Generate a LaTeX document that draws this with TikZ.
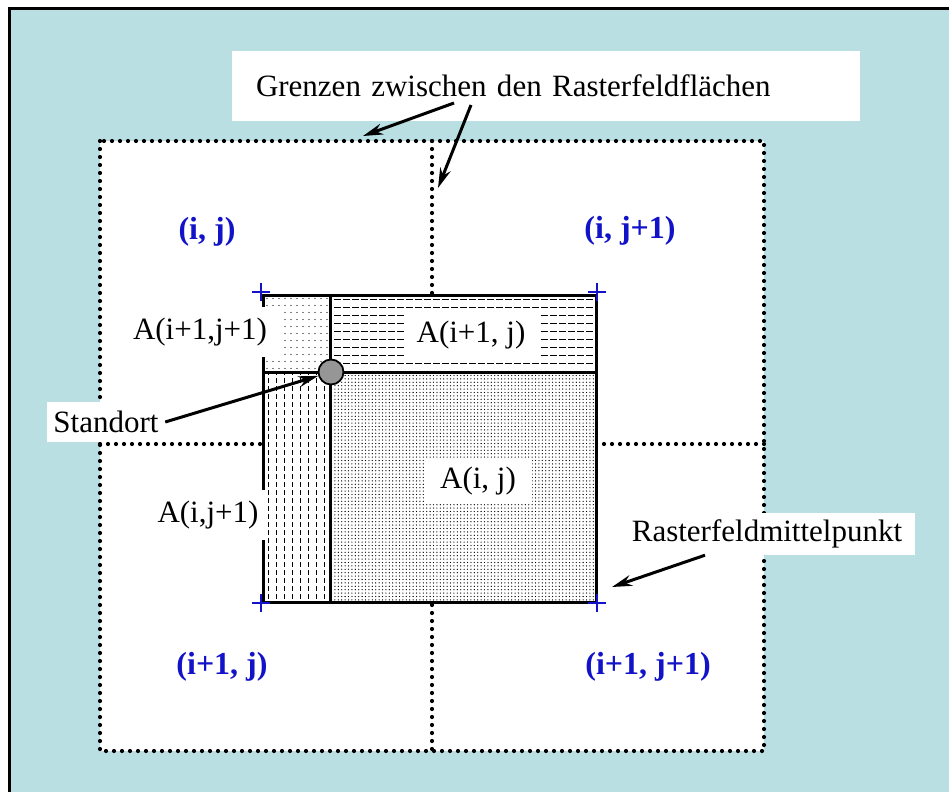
\documentclass[tikz,border=0pt]{standalone}
\usepackage{fontspec}
\setmainfont{Liberation Serif}
\usetikzlibrary{arrows.meta,patterns}
\definecolor{bgcyan}{RGB}{186,223,227}
\definecolor{cellblue}{RGB}{18,18,200}
\definecolor{ptgray}{RGB}{150,150,150}
\pgfdeclarepatternformonly{sparsedots}{\pgfpoint{-1pt}{-1pt}}{\pgfpoint{7pt}{8pt}}{\pgfpoint{6pt}{7pt}}{\pgfpathcircle{\pgfpoint{3pt}{3.5pt}}{0.7pt}\pgfusepath{fill}}
\pgfdeclarepatternformonly{densedots}{\pgfpoint{-1pt}{-1pt}}{\pgfpoint{4.4pt}{4.4pt}}{\pgfpoint{3.4pt}{3.4pt}}{\pgfpathcircle{\pgfpoint{1.7pt}{1.7pt}}{0.65pt}\pgfusepath{fill}}
\pgfdeclarepatternformonly{hdashes}{\pgfpoint{-1pt}{-1pt}}{\pgfpoint{10pt}{9pt}}{\pgfpoint{9pt}{8pt}}{\pgfsetlinewidth{1pt}\pgfpathmoveto{\pgfpoint{1pt}{4pt}}\pgfpathlineto{\pgfpoint{7.5pt}{4pt}}\pgfusepath{stroke}}
\pgfdeclarepatternformonly{vdashes}{\pgfpoint{-1pt}{-1pt}}{\pgfpoint{9pt}{9pt}}{\pgfpoint{8pt}{8pt}}{\pgfsetlinewidth{1pt}\pgfpathmoveto{\pgfpoint{4pt}{1pt}}\pgfpathlineto{\pgfpoint{4pt}{6pt}}\pgfusepath{stroke}}
\begin{document}
\begin{tikzpicture}[x=1pt, y=-1pt,
  lbl/.style={fill=white, inner sep=0pt, font=\fontsize{31}{36}\selectfont},
  cell/.style={text=cellblue, font=\fontsize{32}{36}\selectfont\bfseries},
  grid/.style={line width=4.2pt, dash pattern=on 0pt off 8pt, line cap=round},
  area/.style={line width=3pt},
  pointer/.style={line width=3pt, -{Stealth[length=20pt, width=11pt]}},
  cross/.style={cellblue, line width=2.8pt}]
\useasboundingbox (0,0) rectangle (949,792);
\fill[white] (0,0) rectangle (949,792);
\fill[bgcyan] (9,9) rectangle (949,792);
\draw[line width=3pt] (9,792) -- (9,9) -- (949,9);
\fill[white] (100,141) rectangle (764,751);
\draw[grid] (100,141) rectangle (764,751);
\draw[grid] (432,141) -- (432,751);
\draw[grid] (100,444) -- (764,444);
\fill[white] (263,295) rectangle (596,602);
\fill[pattern=sparsedots] (263,295) rectangle (330,372);
\fill[pattern=hdashes] (330,295) rectangle (596,372);
\fill[pattern=vdashes] (263,372) rectangle (330,602);
\fill[pattern=densedots] (330,372) rectangle (596,602);
\draw[area] (263,295) rectangle (596,602);
\draw[area] (330,295) -- (330,602);
\draw[area] (263,372) -- (596,372);
\foreach \cx/\cy in {261/292, 597/292, 261/603, 597/603}
  \draw[cross] (\cx-9,\cy) -- (\cx+9,\cy) (\cx,\cy-9) -- (\cx,\cy+9);
\node[lbl, minimum width=628pt, minimum height=69pt, text width=580pt, inner xsep=24pt] (grenzen) at (546,86) {Grenzen zwischen den Rasterfeldflächen};
\node[lbl, minimum width=118pt, minimum height=40pt] (standort) at (106,422) {Standort};
\node[lbl, minimum width=160pt, minimum height=50pt] (aul) at (200,332) {A(i+1,j+1)};
\node[lbl, minimum width=135pt, minimum height=48pt] (aur) at (471,335) {A(i+1, j)};
\node[lbl, minimum width=108pt, minimum height=45pt] (aij) at (478,481) {A(i, j)};
\node[lbl, minimum width=117pt, minimum height=50pt] (all) at (208,515) {A(i,j+1)};
\node[lbl, minimum width=295pt, minimum height=42pt] (raster) at (767,534) {Rasterfeldmittelpunkt};
\node[cell] (c11) at (207,232) {(i, j)};
\node[cell] (c12) at (630,231) {(i, j+1)};
\node[cell] (c21) at (222,667) {(i+1, j)};
\node[cell] (c22) at (648,667) {(i+1, j+1)};
\node[circle, draw, line width=1.8pt, fill=ptgray, minimum size=25pt, inner sep=0pt] (standpt) at (331,372) {};
\coordinate (gtail1) at (454,103);
\coordinate (ghead1) at (363,136);
\coordinate (gtail2) at (471,105);
\coordinate (ghead2) at (438,188);
\coordinate (mphead) at (612,587);
\draw[pointer] (gtail1) -- (ghead1);
\draw[pointer] (gtail2) -- (ghead2);
\draw[pointer] (standort.east) -- (standpt);
\draw[pointer] ([xshift=-62pt]raster.south) -- (mphead);
\end{tikzpicture}
\end{document}
